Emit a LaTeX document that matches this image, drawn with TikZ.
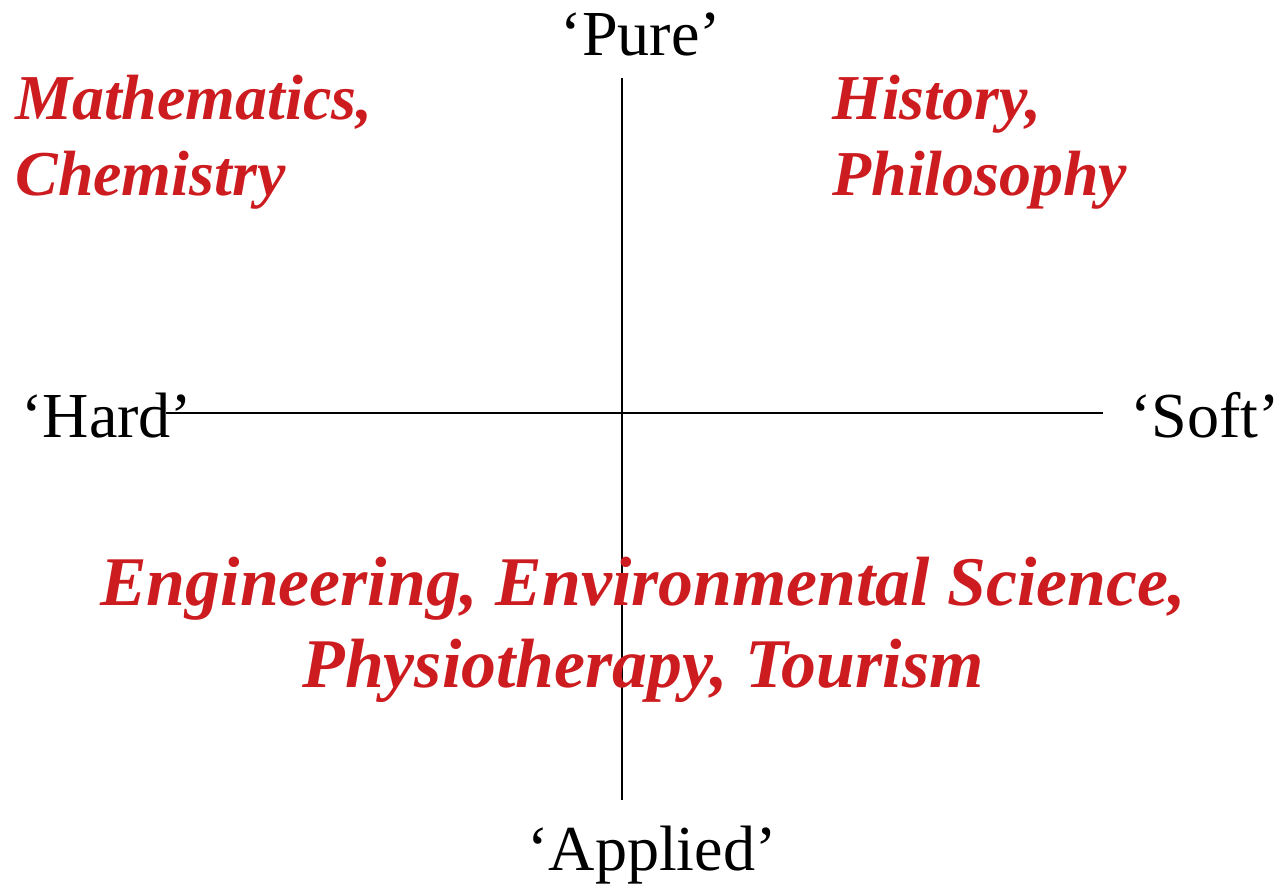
\documentclass[tikz,border=0pt]{standalone}
\usepackage{fontspec}
\setmainfont{Liberation Serif}
\usepackage{tikz}
\usetikzlibrary{positioning}
\definecolor{fieldred}{RGB}{205,28,32}

\begin{document}
\begin{tikzpicture}[
    x=0.02cm,
    y=-0.02cm,
    axislabel/.style={font=\fontsize{36.5}{42}\selectfont,inner sep=0pt},
    field/.style={font=\fontsize{36.4}{42.7}\selectfont\bfseries\itshape,
        text=fieldred,inner sep=0pt,align=left},
    axis/.style={line width=1.1pt}
]

\useasboundingbox (0,0) rectangle (1283,883);

% axes
\coordinate (top) at (622,78);
\coordinate (bottom) at (622,800);
\coordinate (left) at (166,413);
\coordinate (right) at (1103,413);

\draw[axis] (top) -- (bottom);
\draw[axis] (left) -- (right);

% axis labels
\node[axislabel,anchor=base] (P) at (641,55) {`Pure'};
\node[axislabel,anchor=base] (A) at (652,870) {`Applied'};
\node[axislabel,anchor=base west] (H) at (21,437) {`Hard'};
\node[axislabel,anchor=base east] (S) at (1280,437) {`Soft'};

% subjects in each quadrant (base = last line)
\node[field,anchor=base west] (HP) at (15,195)
{Mathematics,\\Chemistry};
\node[field,anchor=base west] (SP) at (832,195)
{History,\\Philosophy};
\node[field,align=center,anchor=base,
    font=\fontsize{39.7}{46.5}\selectfont\bfseries\itshape] (AP) at (643,687)
{Engineering, Environmental Science,\\Physiotherapy, Tourism};

\end{tikzpicture}
\end{document}
